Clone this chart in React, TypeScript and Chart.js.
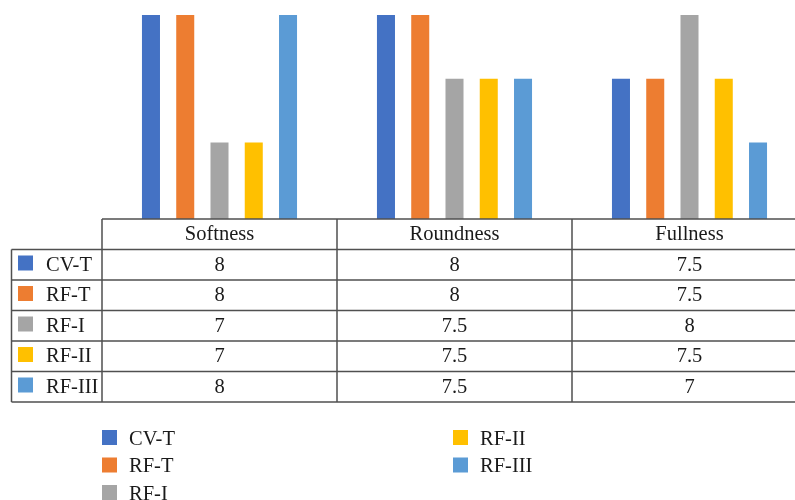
import React, { useEffect, useRef } from "react";
import { Chart, registerables } from "chart.js";

Chart.register(...registerables);

const categories = ["Softness", "Roundness", "Fullness"];
const seriesNames = ["CV-T", "RF-T", "RF-I", "RF-II", "RF-III"];
const seriesColors = ["#4472C4", "#ED7D31", "#A5A5A5", "#FFC000", "#5B9BD5"];
const cvT = [8, 8, 7.5];
const rfT = [8, 8, 7.5];
const rfI = [7, 7.5, 8];
const rfII = [7, 7.5, 7.5];
const rfIII = [8, 7.5, 7];
const seriesValues = [cvT, rfT, rfI, rfII, rfIII];

const FONT = '20.5px "Liberation Serif", "DejaVu Serif", serif';
const LINE = "#505050";
const TEXT = "#1a1a1a";

// Data table under the plot, plus a two-column legend below it
const tablePlugin = {
  id: "dataTable",
  afterDraw(chart: any) {
    const ctx = chart.ctx as CanvasRenderingContext2D;
    const area = chart.chartArea;
    const xs = chart.scales.x;
    const n = categories.length;
    const colW = (area.right - area.left) / n;
    const rowH = 30.5;
    const top = area.bottom;
    const labelLeft = 11.5;
    const rowsTop = top + rowH;
    const bottom = rowsTop + rowH * seriesNames.length;

    ctx.save();
    ctx.strokeStyle = LINE;
    ctx.lineWidth = 1.5;

    // horizontal lines
    ctx.beginPath();
    ctx.moveTo(area.left, top);
    ctx.lineTo(area.right, top);
    for (let r = 0; r <= seriesNames.length; r++) {
      const y = rowsTop + r * rowH;
      ctx.moveTo(labelLeft, y);
      ctx.lineTo(area.right, y);
    }
    // vertical lines
    ctx.moveTo(labelLeft, rowsTop);
    ctx.lineTo(labelLeft, bottom);
    for (let c = 0; c <= n; c++) {
      const x = area.left + c * colW;
      ctx.moveTo(x, top);
      ctx.lineTo(x, bottom);
    }
    ctx.stroke();

    ctx.font = FONT;
    ctx.fillStyle = TEXT;
    ctx.textBaseline = "alphabetic";
    ctx.textAlign = "center";
    categories.forEach((cat, i) => {
      const cx = xs.getPixelForValue(i);
      ctx.fillText(cat, cx, top + 21);
    });

    seriesNames.forEach((name, r) => {
      const y0 = rowsTop + r * rowH;
      ctx.fillStyle = seriesColors[r];
      ctx.fillRect(18, y0 + 6, 15, 15);
      ctx.fillStyle = TEXT;
      ctx.textAlign = "left";
      ctx.fillText(name, 46, y0 + 21);
      ctx.textAlign = "center";
      seriesValues[r].forEach((v, i) => {
        ctx.fillText(String(v), xs.getPixelForValue(i), y0 + 21);
      });
    });

    // legend
    const legendCols = [102, 453];
    const legendRows = [437.5, 465, 492.5];
    seriesNames.forEach((name, i) => {
      const col = i < 3 ? 0 : 1;
      const row = i < 3 ? i : i - 3;
      const x = legendCols[col];
      const cy = legendRows[row];
      ctx.fillStyle = seriesColors[i];
      ctx.fillRect(x, cy - 7.5, 15, 15);
      ctx.fillStyle = TEXT;
      ctx.textAlign = "left";
      ctx.fillText(name, x + 27, cy + 7);
    });
    ctx.restore();
  },
};

export default function App() {
  const ref = useRef<HTMLCanvasElement>(null);

  useEffect(() => {
    if (!ref.current) return;
    const chart = new Chart(ref.current, {
      type: "bar",
      data: {
        labels: categories,
        datasets: seriesNames.map((name, i) => ({
          label: name,
          data: seriesValues[i],
          backgroundColor: seriesColors[i],
          borderWidth: 0,
          categoryPercentage: 0.729,
          barPercentage: 0.526,
        })),
      },
      options: {
        responsive: false,
        animation: false,
        layout: { padding: { left: 102, right: 13, top: 15, bottom: 281 } },
        plugins: {
          legend: { display: false },
          tooltip: { enabled: false },
          title: { display: false },
        },
        scales: {
          x: { display: false, offset: true, grid: { display: false } },
          y: { display: false, min: 6.4, max: 8, grid: { display: false } },
        },
      },
      plugins: [tablePlugin],
    });
    return () => chart.destroy();
  }, []);

  return (
    <div
      style={{
        position: "absolute",
        left: 0,
        top: 0,
        width: 795,
        height: 500,
        overflow: "hidden",
        background: "#fff",
      }}
    >
      <canvas ref={ref} width={820} height={500} />
    </div>
  );
}
